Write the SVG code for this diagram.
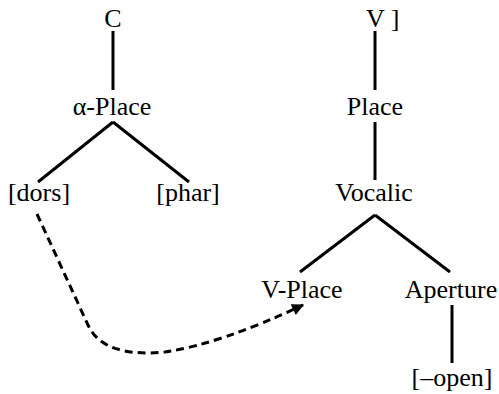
<svg xmlns="http://www.w3.org/2000/svg" width="499" height="394" viewBox="0 0 499 394">
<style>
text{font-family:"Liberation Serif","Times New Roman",serif;font-size:26px;fill:#000;text-anchor:middle}
.e{stroke:#000;stroke-width:3;fill:none}
.d{stroke:#000;stroke-width:3;fill:none;stroke-dasharray:8,5}
</style>
<defs>
<marker id="a2" viewBox="0 0 10 10" refX="9" refY="5" markerWidth="14" markerHeight="12" orient="auto" markerUnits="userSpaceOnUse">
<path d="M0,0 L10,5 L0,10 z" fill="#000"/>
</marker>
</defs>
<g id="connectors">
<line class="e" x1="113" y1="31" x2="113" y2="90"/>
<line class="e" x1="113" y1="122" x2="38" y2="182"/>
<line class="e" x1="113" y1="122" x2="189" y2="182"/>
<line class="e" x1="375" y1="31" x2="375" y2="90"/>
<line class="e" x1="375" y1="122" x2="375" y2="180"/>
<line class="e" x1="375" y1="215" x2="300" y2="272"/>
<line class="e" x1="375" y1="215" x2="450" y2="272"/>
<line class="e" x1="452" y1="305" x2="452" y2="363"/>
<path class="d" d="M37,214 L88,325 Q103,358 165,352 Q220,344 303,305" marker-end="url(#a2)"/>
</g>
<g id="C"><text x="113" y="27">C</text></g>
<g id="aPlace"><text x="112" y="115">α-Place</text></g>
<g id="dors"><text x="39" y="201">[dors]</text></g>
<g id="phar"><text x="188" y="201">[phar]</text></g>
<g id="V"><text x="366" y="27" style="text-anchor:start">V ]</text></g>
<g id="Place"><text x="375" y="115">Place</text></g>
<g id="Vocalic"><text x="374" y="201">Vocalic</text></g>
<g id="VPlace"><text x="302" y="298">V-Place</text></g>
<g id="Aperture"><text x="451" y="298">Aperture</text></g>
<g id="open"><text x="452" y="386">[–open]</text></g>
</svg>
